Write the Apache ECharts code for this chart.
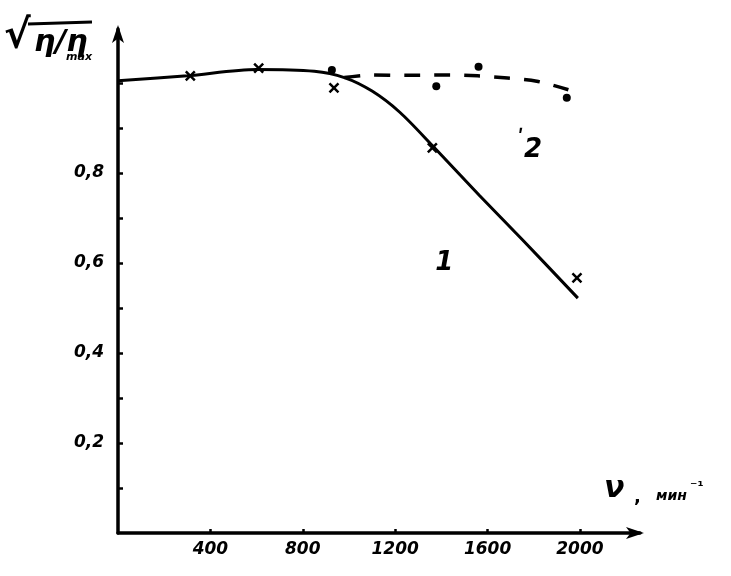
<!DOCTYPE html>
<html><head><meta charset="utf-8">
<script src="https://cdn.jsdelivr.net/npm/echarts@6/dist/echarts.min.js"></script>
<style>html,body{margin:0;padding:0;background:#fff}#c{width:731px;height:576px}</style>
</head><body><div id="c"></div>
<script>
// Tick labels
const xTickLabels = [400, 800, 1200, 1600, 2000];
const yTickLabels = [0.2, 0.4, 0.6, 0.8];
const yTickMarks = [0.1, 0.2, 0.3, 0.4, 0.5, 0.6, 0.7, 0.8, 0.9, 1.0];
// Curve 1 (solid)
const curve1X = [0, 300, 600, 850, 980, 1100, 1220, 1361, 1565, 1752, 1991];
const curve1Y = [1.005, 1.016, 1.03, 1.026, 1.012, 0.982, 0.935, 0.861, 0.75, 0.651, 0.522];
// Curve 2 (dashed)
const curve2X = [980, 1100, 1250, 1413, 1557, 1687, 1813, 1950];
const curve2Y = [1.012, 1.018, 1.017, 1.018, 1.016, 1.011, 1.004, 0.985];
// Measured points: crosses (curve 1), dots (curve 2)
const crossX = [313, 609, 935, 1361, 1987];
const crossY = [1.016, 1.033, 0.989, 0.856, 0.567];
const dotX = [926, 1378, 1561, 1943];
const dotY = [1.029, 0.993, 1.036, 0.967];
// Curve labels
const curveLabels = ['1', '2'];
const curveLabelX = [1413, 1783];
const curveLabelY = [0.6, 0.85];

const zip = (a, b) => a.map((v, i) => [v, b[i]]);
const FONT = 'DejaVu Sans';
const chart = echarts.init(document.getElementById('c'), null, {renderer: 'canvas'});
chart.setOption({
  backgroundColor: '#fff',
  animation: false,
  grid: {left: 118, right: 91, top: 29, bottom: 43},
  xAxis: {
    type: 'value', min: 0, max: 2260,
    axisLine: {lineStyle: {color: '#000', width: 3.5}, symbol: ['none', 'arrow'], symbolSize: [9, 18], symbolOffset: [0, 4]},
    axisTick: {inside: true, length: 4, lineStyle: {color: '#000', width: 2.5}, customValues: xTickLabels},
    axisLabel: {customValues: xTickLabels, color: '#000', fontFamily: FONT, fontStyle: 'italic', fontWeight: 'bold', fontSize: 17, margin: 8,
      formatter: v => String(v)},
    splitLine: {show: false}
  },
  yAxis: {
    type: 'value', min: 0, max: 1.12,
    axisLine: {lineStyle: {color: '#000', width: 3.5}, symbol: ['none', 'arrow'], symbolSize: [9, 18], symbolOffset: [0, 4]},
    axisTick: {inside: true, length: 5, lineStyle: {color: '#000', width: 2.5}, customValues: yTickMarks},
    axisLabel: {customValues: yTickLabels, color: '#000', fontFamily: FONT, fontStyle: 'italic', fontWeight: 'bold', fontSize: 17, margin: 14,
      formatter: v => v.toFixed(1).replace('.', ',')},
    splitLine: {show: false}
  },
  series: [
    {type: 'line', data: zip(curve1X, curve1Y), smooth: 0.3, showSymbol: false, lineStyle: {color: '#000', width: 3}, z: 3},
    {type: 'line', data: zip(curve2X, curve2Y), smooth: 0.3, showSymbol: false, lineStyle: {color: '#000', width: 3.5, type: [16, 14]}, z: 3},
    {type: 'scatter', data: zip(crossX, crossY), symbol: 'path://M0,0L10,10M10,0L0,10', symbolSize: 9,
      itemStyle: {color: '#000', borderColor: '#000', borderWidth: 2.5, opacity: 1}, z: 4},
    {type: 'scatter', data: zip(dotX, dotY), symbol: 'circle', symbolSize: 8, itemStyle: {color: '#000', opacity: 1}, z: 4},
    {type: 'scatter', symbolSize: 0, silent: true, itemStyle: {opacity: 1},
      data: curveLabels.map((t, i) => ({value: [curveLabelX[i], curveLabelY[i]], name: t})),
      label: {show: true, position: 'inside', color: '#000', formatter: p => p.name === '2' ? '{p|ʹ}{n|2}' : '{n|1}',
        rich: {n: {fontFamily: FONT, fontStyle: 'italic', fontWeight: 'bold', fontSize: 26, color: '#000'},
               p: {fontFamily: FONT, fontWeight: 'bold', fontSize: 22, color: '#000', verticalAlign: 'top', padding: [0, 0, 22, 0]}}}}
  ],
  graphic: [
    {type: 'text', left: 4, top: 18, style: {text: '√', font: 'bold 40px "DejaVu Sans"', fill: '#000'}},
    {type: 'line', shape: {x1: 28, y1: 24, x2: 92, y2: 22}, style: {stroke: '#000', lineWidth: 3}},
    {type: 'text', left: 34, top: 28, style: {text: 'η/η', font: 'italic bold 30px "DejaVu Sans"', fill: '#000'}},
    {type: 'text', left: 66, top: 52, style: {text: 'max', font: 'italic bold 11px "DejaVu Sans"', fill: '#000'}},
    {type: 'text', left: 604, top: 474, style: {text: 'ν', font: 'italic bold 30px "DejaVu Sans"', fill: '#000'}},
    {type: 'text', left: 634, top: 488, style: {text: ',', font: 'bold 18px "DejaVu Sans"', fill: '#000'}},
    {type: 'text', left: 656, top: 489, style: {text: 'мин', font: 'italic bold 14px "DejaVu Sans"', fill: '#000'}},
    {type: 'text', left: 690, top: 480, style: {text: '⁻¹', font: 'bold 14px "DejaVu Sans"', fill: '#000'}}
  ]
});
</script>
</body></html>
